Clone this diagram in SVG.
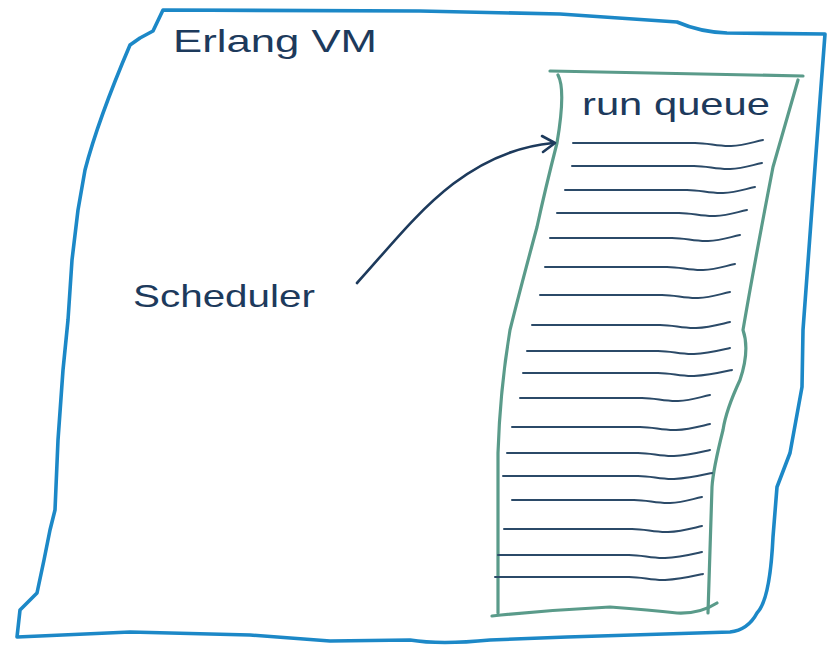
<svg xmlns="http://www.w3.org/2000/svg" width="829" height="649" viewBox="0 0 829 649">
  <style>
    .label { font-family: "Liberation Sans", "DejaVu Sans", sans-serif; fill: #1d3a5c; }
    .vm { fill: none; stroke: #1c88c7; stroke-width: 3.6; stroke-linejoin: round; stroke-linecap: round; }
    .queue { fill: none; stroke: #5a9b8a; stroke-width: 3.2; stroke-linejoin: round; stroke-linecap: round; }
    .slot { fill: none; stroke: #2b4a68; stroke-width: 2; stroke-linecap: round; }
    .link { fill: none; stroke: #1d3a5c; stroke-width: 2.6; stroke-linecap: round; stroke-linejoin: round; }
  </style>
  <rect width="829" height="649" fill="#ffffff"/>

  <!-- Erlang VM boundary -->
  <g id="erlang-vm">
    <path class="vm" d="M163 10 L420 11 L560 14 L677 22 Q700 32 727 33 L825 34 L820 100 L815 167 L803 330 L802 387 L790 453 L777 487 L773 537 Q770 600 757 613 Q748 630 730 632 L567 637 L490 640 Q440 645 410 640 L330 641 L250 635 L130 632 L40 636 L17 637 L20 610 L37 593 L44 560 L50 530 L55 510 L58 440 L63 370 L68 320 L72 260 L78 210 L85 170 Q98 120 130 45 L140 38 L153 31 L163 10 Z"/>
    <text class="label" x="173" y="52" font-size="32" textLength="204" lengthAdjust="spacingAndGlyphs">Erlang VM</text>
  </g>

  <!-- run queue sheet -->
  <g id="run-queue">
    <path class="queue" d="M550 71 L803 76"/>
    <path class="queue" d="M558 75 Q566 90 557 143 Q545 190 537 227 Q520 290 510 330 Q500 390 498 453 L498 613"/>
    <path class="queue" d="M798 80 Q785 125 773 167 Q755 260 743 330 Q750 350 740 380 Q726 410 723 430 Q713 470 712 487 L708 613"/>
    <path class="queue" d="M492 616 Q550 610 610 607 Q650 610 677 613 Q700 614 717 603"/>
    <text class="label" x="582" y="115" font-size="32" textLength="188" lengthAdjust="spacingAndGlyphs">run queue</text>
    <g id="queue-slots">
      <path class="slot" d="M573 143H695c14 0 22 3.5 36 3s22 -4 32 -6"/>
      <path class="slot" d="M572 166H694c14 0 22 3.5 36 3s22 -4 32 -6"/>
      <path class="slot" d="M565 190H687c14 0 22 3.5 36 3s22 -4 32 -6"/>
      <path class="slot" d="M557 213H679c14 0 22 3.5 36 3s22 -4 32 -6"/>
      <path class="slot" d="M550 238H672c14 0 22 3.5 36 3s22 -4 32 -6"/>
      <path class="slot" d="M545 267H667c14 0 22 3.5 36 3s22 -4 32 -6"/>
      <path class="slot" d="M540 295H662c14 0 22 3.5 36 3s22 -4 32 -6"/>
      <path class="slot" d="M532 325H660c14 0 22 3.5 36 3s25 -4 34 -6"/>
      <path class="slot" d="M527 351H658c14 0 22 3.5 36 3s27 -4 36 -6"/>
      <path class="slot" d="M523 373H658c14 0 22 3.5 36 3s29 -4 38 -6"/>
      <path class="slot" d="M520 398H642c14 0 22 3.5 36 3s22 -4 32 -6"/>
      <path class="slot" d="M512 427H640c14 0 22 3.5 36 3s25 -4 34 -6"/>
      <path class="slot" d="M507 453H638c14 0 22 3.5 36 3s27 -4 36 -6"/>
      <path class="slot" d="M503 476H638c14 0 22 3.5 36 3s29 -4 38 -6"/>
      <path class="slot" d="M512 500H634c14 0 22 3.5 36 3s22 -4 32 -6"/>
      <path class="slot" d="M504 529H632c14 0 22 3.5 36 3s25 -4 34 -6"/>
      <path class="slot" d="M498 555H629c14 0 22 3.5 36 3s28 -4 37 -6"/>
      <path class="slot" d="M495 577H629c14 0 22 3.5 36 3s29 -4 38 -6"/>
    </g>
  </g>

  <!-- Scheduler label -->
  <g id="scheduler">
    <text class="label" x="133" y="307" font-size="32" textLength="182" lengthAdjust="spacingAndGlyphs">Scheduler</text>
  </g>

  <!-- connectors -->
  <g id="connectors">
    <path class="link" d="M357 283 C410 225 460 152 553 143"/>
    <path class="link" d="M542 136 L555 143 L543 152"/>
  </g>
</svg>
